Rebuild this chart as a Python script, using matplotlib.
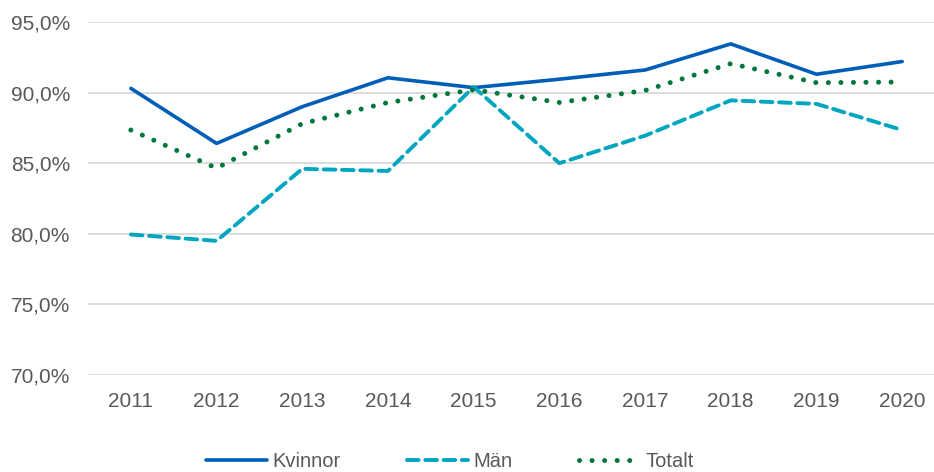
import numpy as np
import matplotlib.pyplot as plt
from matplotlib.ticker import FuncFormatter

# data
years = [2011, 2012, 2013, 2014, 2015, 2016, 2017, 2018, 2019, 2020]
kvinnor = [90.3, 86.4, 89.0, 91.05, 90.35, 90.95, 91.6, 93.45, 91.3, 92.2]
man = [79.95, 79.5, 84.6, 84.45, 90.4, 85.0, 86.95, 89.45, 89.2, 87.35]
totalt = [87.35, 84.65, 87.8, 89.3, 90.2, 89.3, 90.15, 92.05, 90.7, 90.75]
labels = ["Kvinnor", "Män", "Totalt"]

plt.rcParams['font.family'] = ['Liberation Sans', 'DejaVu Sans']
grey = '#595959'

fig = plt.figure(figsize=(9.34, 4.72), dpi=100)
ax = fig.add_axes([88/934, 1 - 375/472, (945 - 88)/934, (375 - 22)/472])

ax.plot(years, kvinnor, color='#005EB8', lw=2.6, solid_capstyle='round', label=labels[0])
ax.plot(years, man, color='#00A6BF', lw=2.8, dashes=(3.0, 1.7), dash_capstyle='round', label=labels[1])
ax.plot(years, totalt, color='#00773A', lw=3.6, dashes=(0.01, 2.5), dash_capstyle='round', label=labels[2])

ax.set_xlim(2010.5, 2020.5)
ax.set_ylim(70, 95)
ax.set_yticks(np.arange(70, 95.1, 5))
ax.yaxis.set_major_formatter(FuncFormatter(lambda v, p: f"{v:.1f}%".replace('.', ',')))
ax.set_xticks(years)
ax.grid(axis='y', color='#d9d9d9', lw=1.3)
ax.set_axisbelow(True)
for s in ax.spines.values():
    s.set_visible(False)
ax.tick_params(length=0, labelsize=15, colors=grey, pad=13)
ax.tick_params(axis='x', pad=12)

fig.legend(loc='center', bbox_to_anchor=(0.482, 0.022), ncol=3, frameon=False,
           fontsize=14.5, handlelength=3.0, columnspacing=3.3, handletextpad=0.3,
           labelcolor=grey)

fig.savefig('out.png', dpi=100)
